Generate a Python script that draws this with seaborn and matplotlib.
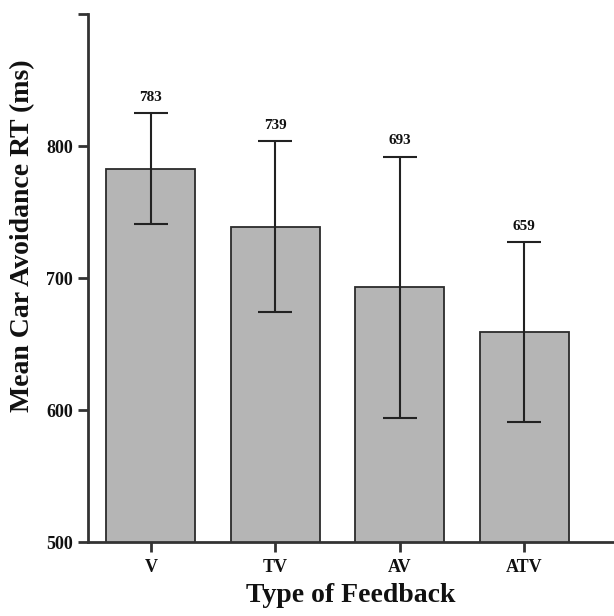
import seaborn as sns
import matplotlib.pyplot as plt
import numpy as np
import pandas as pd

feedback = ['V', 'TV', 'AV', 'ATV']
mean_rt = [783, 739, 693, 659]
err_rt = [42, 65, 99, 68]

sns.set_style('ticks')
plt.rcParams['font.family'] = ['Liberation Serif', 'DejaVu Serif']
plt.rcParams['font.weight'] = 'bold'
plt.rcParams['text.color'] = '#111111'
plt.rcParams['axes.labelcolor'] = '#111111'
plt.rcParams['xtick.color'] = '#111111'
plt.rcParams['ytick.color'] = '#111111'

df = pd.DataFrame({'feedback': feedback, 'rt': mean_rt, 'err': err_rt})

fig = plt.figure(figsize=(6.14, 6.16), dpi=100)
ax = fig.add_axes([0.143, 0.12, 0.857, 0.857])

sns.barplot(data=df, x='feedback', y='rt', color='#b5b5b5', saturation=1,
            edgecolor='#2b2b2b', linewidth=1.3, width=0.715, errorbar=None, ax=ax)
ax.errorbar(np.arange(len(feedback)), df['rt'], yerr=df['err'], fmt='none',
            ecolor='#222222', elinewidth=1.5, capsize=12, capthick=1.5, zorder=3)

for i, (m, e) in enumerate(zip(mean_rt, err_rt)):
    ax.text(i, m + e + 7, str(m), ha='center', va='bottom', fontsize=11,
            fontweight='bold')

ax.set_ylim(500, 900)
ax.set_xlim(-0.506, 3.72)
ax.set_yticks([500, 600, 700, 800, 900])
ax.set_yticklabels(['500', '600', '700', '800', ''])

for s in ['top', 'right']:
    ax.spines[s].set_visible(False)
for s in ['left', 'bottom']:
    ax.spines[s].set_linewidth(2)
    ax.spines[s].set_color('#333333')

ax.tick_params(axis='both', length=7, width=2, color='#333333', labelsize=13)
ax.tick_params(axis='x', pad=5)
plt.xticks(fontweight='bold')
plt.yticks(fontweight='bold')

ax.set_ylabel('Mean Car Avoidance RT (ms)', fontsize=20, fontweight='bold')
ax.yaxis.set_label_coords(-0.1, 0.58)
ax.set_xlabel('Type of Feedback', fontsize=20, fontweight='bold', labelpad=5)

plt.savefig('out.png', dpi=100)
